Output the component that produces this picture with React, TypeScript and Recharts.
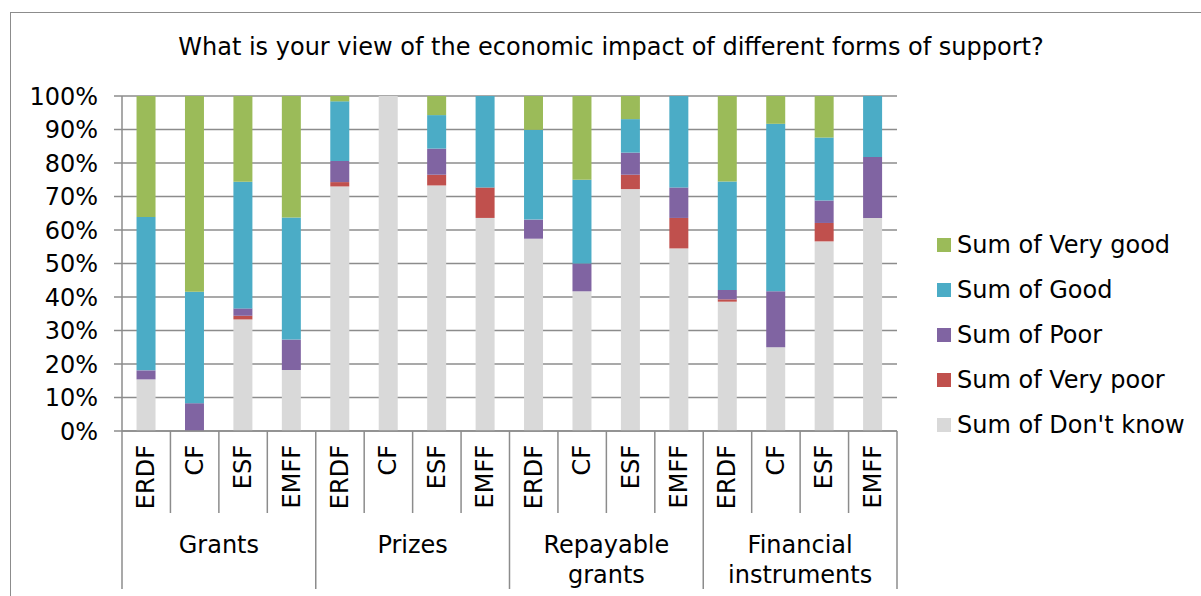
import React from "react";
import { BarChart, Bar, XAxis, YAxis, CartesianGrid, Legend } from "recharts";

const groups = ["Grants", "Prizes", "Repayable grants", "Financial instruments"];
const groupLines: Record<string, string[]> = {
  Grants: ["Grants"],
  Prizes: ["Prizes"],
  "Repayable grants": ["Repayable", "grants"],
  "Financial instruments": ["Financial", "instruments"],
};
const funds = ["ERDF", "CF", "ESF", "EMFF"];

// values in %, order: Grants(ERDF,CF,ESF,EMFF), Prizes(...), Repayable grants(...), Financial instruments(...)
const dontKnow = [15.4, 0, 33.3, 18.2, 73.0, 100, 73.3, 63.6, 57.4, 41.7, 72.2, 54.5, 38.6, 25.0, 56.6, 63.6];
const veryPoor = [0, 0, 1.1, 0, 1.3, 0, 3.2, 9.1, 0, 0, 4.3, 9.1, 0.7, 0, 5.5, 0];
const poor = [2.7, 8.3, 2.2, 9.1, 6.3, 0, 7.8, 0, 5.7, 8.3, 6.6, 9.1, 2.8, 16.7, 6.7, 18.2];
const good = [45.8, 33.3, 37.8, 36.4, 17.8, 0, 10.0, 27.3, 26.8, 25.0, 10.0, 27.3, 32.4, 50.0, 18.8, 18.2];
const veryGood = [36.1, 58.4, 25.6, 36.3, 1.6, 0, 5.7, 0, 10.1, 25.0, 6.9, 0, 25.5, 8.3, 12.4, 0];

const yTicks = [0, 10, 20, 30, 40, 50, 60, 70, 80, 90, 100];

const series = [
  { key: "dk", name: "Sum of Don't know", color: "#D9D9D9", values: dontKnow },
  { key: "vp", name: "Sum of Very poor", color: "#C0504D", values: veryPoor },
  { key: "p", name: "Sum of Poor", color: "#8064A2", values: poor },
  { key: "g", name: "Sum of Good", color: "#4BACC6", values: good },
  { key: "vg", name: "Sum of Very good", color: "#9BBB59", values: veryGood },
];

const data = groups.flatMap((grp, gi) =>
  funds.map((f, fi) => {
    const i = gi * 4 + fi;
    const row: any = { id: `${grp}-${f}`, fund: f, group: grp };
    series.forEach((s) => (row[s.key] = s.values[i]));
    return row;
  })
);

const FONT = "DejaVu Sans";
const AXIS = "#8c8c8c";
const FS = 24;

const FundTick = (props: any) => {
  const { x, y, payload, index } = props;
  const half = payload.offset ?? 24.2;
  const row = data[index];
  const isGroupStart = index % 4 === 0;
  const isLast = index === data.length - 1;
  const gl = groupLines[row.group];
  const bottom = 589;
  return (
    <g>
      <line x1={x - half} x2={x - half} y1={y} y2={isGroupStart ? bottom : y + 82} stroke={AXIS} strokeWidth={1.5} />
      {isLast && <line x1={x + half} x2={x + half} y1={y} y2={bottom} stroke={AXIS} strokeWidth={1.5} />}
      <text
        x={x}
        y={y + 14}
        transform={`rotate(-90, ${x}, ${y + 14})`}
        textAnchor="end"
        dominantBaseline="central"
        fontSize={FS}
        fontFamily={FONT}
        fill="#000"
      >
        {row.fund}
      </text>
      {isGroupStart &&
        gl.map((t, li) => (
          <text
            key={li}
            x={x + half * 3}
            y={y + 114 + li * 30}
            textAnchor="middle"
            dominantBaseline="central"
            fontSize={FS}
            fontFamily={FONT}
            fill="#000"
          >
            {t}
          </text>
        ))}
    </g>
  );
};

const renderLegend = () => {
  const items = [...series].reverse();
  return (
    <div style={{ fontFamily: FONT, fontSize: FS, color: "#000" }}>
      {items.map((it) => (
        <div key={it.key} style={{ display: "flex", alignItems: "center", height: 45 }}>
          <div style={{ width: 14, height: 14, background: it.color, marginRight: 6 }} />
          <span style={{ whiteSpace: "nowrap" }}>{it.name}</span>
        </div>
      ))}
    </div>
  );
};

export default function App() {
  return (
    <div style={{ position: "absolute", left: 0, top: 0, width: 1201, height: 596, background: "#fff", overflow: "hidden" }}>
      <div
        style={{
          position: "absolute",
          left: 10,
          top: 12,
          width: 1300,
          height: 700,
          borderLeft: `1.5px solid ${AXIS}`,
          borderTop: `1.5px solid ${AXIS}`,
        }}
      />
      <div
        style={{
          position: "absolute",
          left: 0,
          top: 33,
          width: 1222,
          textAlign: "center",
          fontFamily: FONT,
          fontSize: 24,
          color: "#000",
          whiteSpace: "nowrap",
        }}
      >
        What is your view of the economic impact of different forms of support?
      </div>
      <div style={{ position: "absolute", left: 0, top: 0 }}>
        <BarChart
          width={1201}
          height={596}
          data={data}
          margin={{ top: 96, right: 304, bottom: 0, left: 0 }}
          barCategoryGap="30%"
          style={{ fontFamily: FONT }}
        >
          <CartesianGrid vertical={false} stroke={AXIS} strokeWidth={1.5} />
          <XAxis
            dataKey="id"
            type="category"
            height={165}
            interval={0}
            tickSize={0}
            tickMargin={0}
            tickLine={false}
            axisLine={{ stroke: AXIS, strokeWidth: 1.5 }}
            tick={<FundTick />}
          />
          <YAxis
            width={122}
            domain={[0, 100]}
            ticks={yTicks}
            interval={0}
            tickFormatter={(v: number) => `${v}%`}
            tickSize={8}
            tickMargin={16}
            axisLine={{ stroke: AXIS, strokeWidth: 1.5 }}
            tickLine={{ stroke: AXIS, strokeWidth: 1.5 }}
            tick={{ fill: "#000", fontSize: FS, fontFamily: FONT }}
          />
          <Legend
            content={renderLegend}
            layout="vertical"
            align="center"
            verticalAlign="middle"
            wrapperStyle={{ position: "absolute", left: 937, top: 222, width: 264 }}
          />
          {series.map((s) => (
            <Bar key={s.key} dataKey={s.key} name={s.name} stackId="a" fill={s.color} isAnimationActive={false} />
          ))}
        </BarChart>
      </div>
    </div>
  );
}
